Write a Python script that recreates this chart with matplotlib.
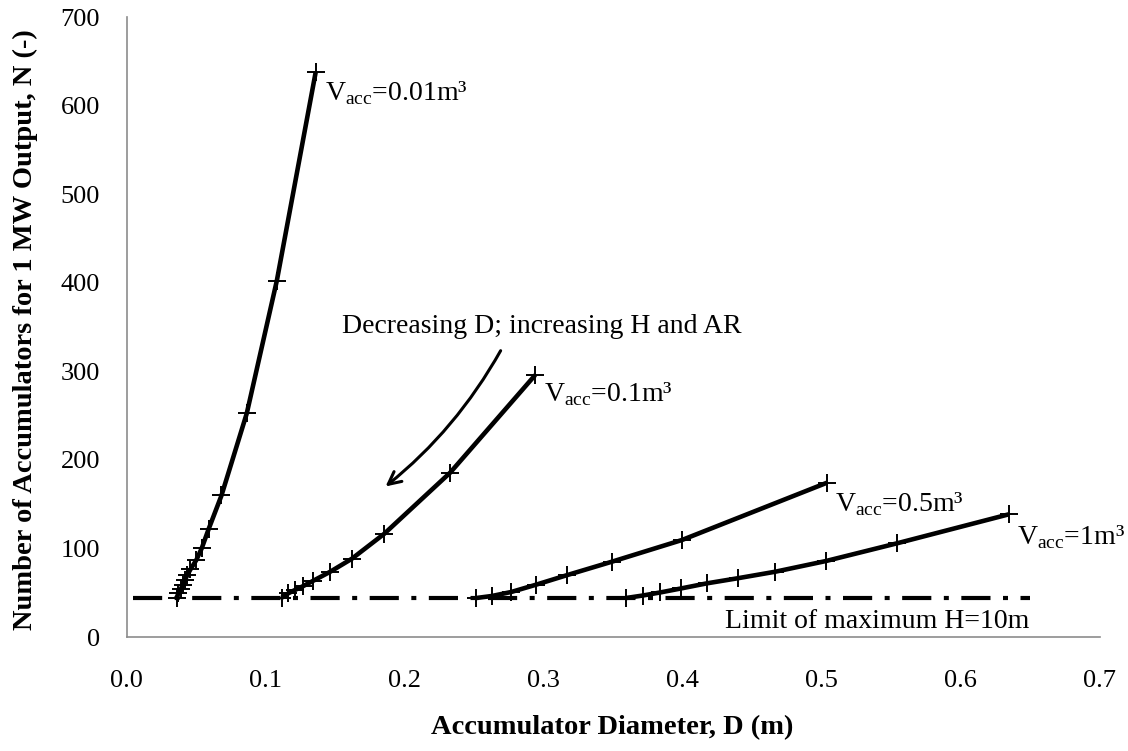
import numpy as np
import matplotlib
matplotlib.use("Agg")
import matplotlib.pyplot as plt

# data: accumulator diameter D (m) vs number of accumulators N
d_001 = [0.0361, 0.0373, 0.0390, 0.0404, 0.0421, 0.0437, 0.0460, 0.0502, 0.0541, 0.0590, 0.0683, 0.0865, 0.1081, 0.1361]
n_001 = [44.4, 49.3, 53.9, 58.7, 64.4, 70.0, 76.4, 86.9, 100.2, 121.6, 159.8, 252.6, 402.3, 638.3]

d_01 = [0.1117, 0.1164, 0.1212, 0.1272, 0.1344, 0.1464, 0.1620, 0.1853, 0.2327, 0.2939]
n_01 = [44.4, 49.4, 53.1, 57.6, 63.6, 73.6, 88.3, 116.5, 185.5, 295.8]

d_05 = [0.2514, 0.2627, 0.2766, 0.2944, 0.3171, 0.3490, 0.3994, 0.5037]
n_05 = [44.0, 46.3, 50.8, 59.0, 70.0, 85.0, 109.5, 174.2]

d_1 = [0.3591, 0.3711, 0.3838, 0.3987, 0.4174, 0.4394, 0.4665, 0.5030, 0.5541, 0.6344]
n_1 = [44.0, 46.8, 50.3, 54.8, 60.6, 66.3, 73.7, 85.8, 105.8, 138.5]

limit_d = [0.005, 0.65]
limit_n = [44, 44]

x_ticks = [0.0, 0.1, 0.2, 0.3, 0.4, 0.5, 0.6, 0.7]
y_ticks = [0, 100, 200, 300, 400, 500, 600, 700]

plt.rcParams['font.family'] = ['Liberation Serif', 'DejaVu Serif']
plt.rcParams['mathtext.fontset'] = 'custom'
plt.rcParams['mathtext.rm'] = 'Liberation Serif'

fig = plt.figure(figsize=(11.28, 7.51), dpi=100)
ax = fig.add_axes([126.5 / 1128, 1 - 637 / 751, (1100 - 126.5) / 1128, (637 - 17) / 751])

# curves
for d, n in [(d_001, n_001), (d_01, n_01), (d_05, n_05), (d_1, n_1)]:
    ax.plot(d, n, color='black', lw=3.3, marker='+', ms=13, mew=1.4,
            solid_capstyle='butt', solid_joinstyle='round', zorder=3)

# H = 10 m limit
ax.plot(limit_d, limit_n, color='black', lw=3.0, dashes=(7, 3, 1.2, 3),
        dash_capstyle='butt', zorder=2)

ax.set_xlim(0, 0.7)
ax.set_ylim(0, 700)
ax.set_xticks(x_ticks)
ax.set_xticklabels([f"{v:.1f}" for v in x_ticks])
ax.set_yticks(y_ticks)
ax.tick_params(length=0, labelsize=19)
ax.tick_params(axis='x', pad=24)
ax.tick_params(axis='y', pad=19)
for s in ['top', 'right']:
    ax.spines[s].set_visible(False)
for s in ['left', 'bottom']:
    ax.spines[s].set_color('#8c8c8c')
    ax.spines[s].set_linewidth(1.2)

# labels on curves
fs = 20
ax.text(0.1428, 606, r'V$_{\mathrm{acc}}$=0.01m³', fontsize=fs, va='baseline')
ax.text(0.2999, 266, r'V$_{\mathrm{acc}}$=0.1m³', fontsize=fs, va='baseline')
ax.text(0.5097, 141.5, r'V$_{\mathrm{acc}}$=0.5m³', fontsize=fs, va='baseline')
ax.text(0.6404, 105, r'V$_{\mathrm{acc}}$=1m³', fontsize=fs, va='baseline')
ax.text(0.6495, 9.8, 'Limit of maximum H=10m', fontsize=fs, ha='right', va='baseline')
ax.text(0.2986, 343, 'Decreasing D; increasing H and AR', fontsize=fs, ha='center', va='baseline')

ax.annotate('', xy=(0.1847, 168), xytext=(0.2700, 326),
            arrowprops=dict(arrowstyle='->,head_length=0.9,head_width=0.45', color='black',
                            lw=2.2, connectionstyle='arc3,rad=-0.1'))

# axis titles
fig.text(612 / 1128, 1 - 728 / 751, 'Accumulator Diameter, D (m)', fontsize=20.5,
         fontweight='bold', ha='center', va='center')
fig.text(25 / 1128, 1 - 330 / 751, 'Number of Accumulators for 1 MW Output, N (-)',
         fontsize=20.5, fontweight='bold', ha='center', va='center', rotation=90)

fig.savefig('out.png', dpi=100)
